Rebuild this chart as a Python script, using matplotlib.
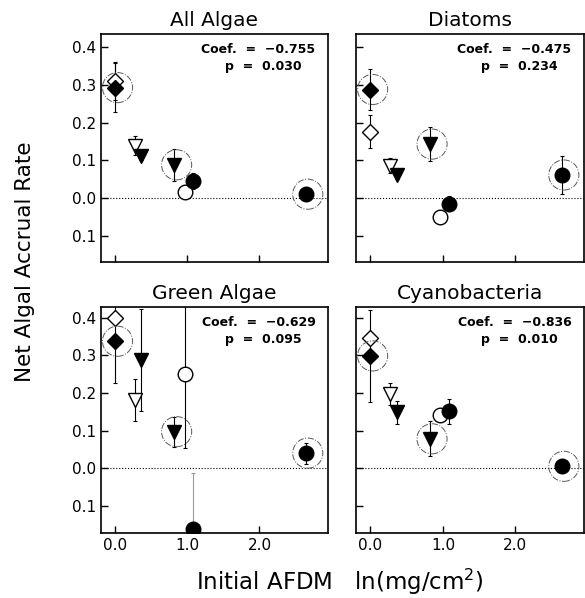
import numpy as np
import matplotlib
matplotlib.use('Agg')
import matplotlib.pyplot as plt


titles = ['All Algae', 'Diatoms', 'Green Algae', 'Cyanobacteria']
coefs = ['\u22120.755', '\u22120.475', '\u22120.629', '\u22120.836']
pvals = ['0.030', '0.234', '0.095', '0.010']

# treatments: filled diamond, open diamond, open tri, filled tri,
# circled filled tri, open circle, filled circle, circled filled circle
afdm = [0.0, 0.0, 0.27, 0.36, 0.82, 0.96, 1.08, 2.64]

all_y = [0.293, 0.31, 0.139, 0.111, 0.088, 0.015, 0.045, 0.010]
all_err = [0.065, 0.05, 0.026, 0.01, 0.043, 0.0, 0.02, 0.015]

diat_y = [0.288, 0.176, 0.086, 0.061, 0.143, -0.05, -0.015, 0.061]
diat_err = [0.055, 0.043, 0.02, 0.01, 0.046, 0.01, 0.02, 0.05]

green_y = [0.337, 0.40, 0.181, 0.287, 0.097, 0.25, -0.162, 0.04]
green_err = [0.112, 0.0, 0.055, 0.135, 0.04, 0.197, 0.149, 0.028]

cyan_y = [0.298, 0.346, 0.197, 0.148, 0.078, 0.141, 0.151, 0.005]
cyan_err = [0.121, 0.0, 0.03, 0.03, 0.046, 0.01, 0.033, 0.01]

panel_y = [all_y, diat_y, green_y, cyan_y]
panel_err = [all_err, diat_err, green_err, cyan_err]

markers = ['D', 'D', 'v', 'v', 'v', 'o', 'o', 'o']
filled = [True, False, False, True, True, False, True, True]
circled = [True, False, False, False, True, False, False, True]
msizes = [8.5, 8.2, 10, 10, 10, 10.5, 10.5, 10.5]

yticks = [-0.1, 0.0, 0.1, 0.2, 0.3, 0.4]
ytick_labels = ['0.1', '0.0', '0.1', '0.2', '0.3', '0.4']

fig = plt.figure(figsize=(5.85, 5.98), dpi=100)

boxes = [[0.1726, 0.5619, 0.388, 0.381],
         [0.6085, 0.5619, 0.390, 0.381],
         [0.1726, 0.1087, 0.388, 0.378],
         [0.6085, 0.1087, 0.390, 0.378]]

for k in range(4):
    ax = fig.add_axes(boxes[k])
    ys = panel_y[k]
    es = panel_err[k]

    ax.axhline(0, color='k', ls=':', lw=0.8, zorder=1)

    for i in range(len(afdm)):
        ecol = 'k'
        if k == 2 and i == 6:
            ecol = '0.6'
        if es[i] > 0:
            ax.errorbar(afdm[i], ys[i], yerr=es[i], fmt='none', ecolor=ecol,
                        elinewidth=0.8, capsize=1.5, capthick=0.8, zorder=2)

    # open markers first, filled on top
    for i in range(len(afdm)):
        if not filled[i]:
            ax.plot(afdm[i], ys[i], marker=markers[i], ms=msizes[i],
                    mfc='white', mec='k', mew=1.0, ls='none', zorder=3)
    for i in range(len(afdm)):
        if filled[i]:
            ax.plot(afdm[i], ys[i], marker=markers[i], ms=msizes[i],
                    mfc='k', mec='k', mew=1.0, ls='none', zorder=4)
        if circled[i]:
            ax.scatter([afdm[i] + 0.03], [ys[i]], s=470, facecolors='none',
                       edgecolors='0.35', linestyles='-.', linewidths=0.7,
                       zorder=5)

    ax.set_xlim(-0.2, 2.95)
    if k < 2:
        ax.set_ylim(-0.17, 0.435)
    else:
        ax.set_ylim(-0.172, 0.428)
    ax.set_xticks([0, 1, 2])
    ax.set_yticks(yticks)
    ax.tick_params(direction='in', length=5, width=1, labelsize=11,
                   top=False, right=False)
    if k % 2 == 0:
        ax.set_yticklabels(ytick_labels)
    else:
        ax.set_yticklabels([])
    if k >= 2:
        ax.set_xticklabels(['0.0', '1.0', '2.0'])
    else:
        ax.set_xticklabels([])
    for s in ax.spines.values():
        s.set_linewidth(1.2)

    ax.set_title(titles[k], fontsize=14.5, pad=6)
    ax.text(0.945, 0.933, 'Coef.  =  ' + coefs[k], transform=ax.transAxes,
            ha='right', va='center', fontsize=9, fontweight='bold')
    ax.text(0.885, 0.857, 'p  =  ' + pvals[k], transform=ax.transAxes,
            ha='right', va='center', fontsize=9, fontweight='bold')

fig.text(0.043, 0.562, 'Net Algal Accrual Rate', rotation=90, ha='center',
         va='center', fontsize=15.5)
fig.text(0.581, 0.0134, 'Initial AFDM   ln(mg/cm$^2$)', ha='center',
         va='baseline', fontsize=16.5)

fig.savefig('out.png', dpi=100)
